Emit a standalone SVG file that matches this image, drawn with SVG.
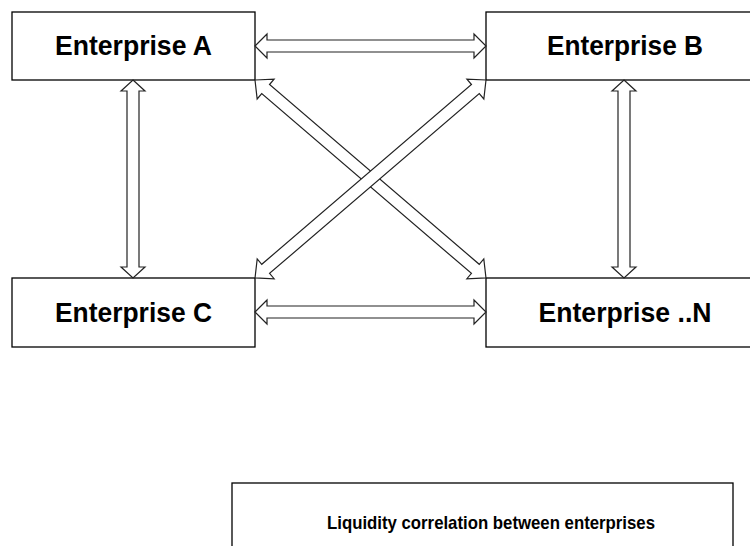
<svg xmlns="http://www.w3.org/2000/svg" width="750" height="546" viewBox="0 0 750 546">
<style>
.box{fill:#fff;stroke:#000;stroke-width:1.3}
.lbl{font-family:"Liberation Sans",Arial,sans-serif;font-weight:bold;font-size:27px;fill:#000;text-anchor:middle}
.cap{font-family:"Liberation Sans",Arial,sans-serif;font-weight:bold;font-size:19px;fill:#000;text-anchor:middle}
.arr{fill:#fff;stroke:#222;stroke-width:1.2;stroke-linejoin:miter}
</style>
<rect width="750" height="546" fill="#fff"/>
<g id="nodeA"><rect class="box" x="12" y="12" width="243" height="68"/><text class="lbl" x="133.5" y="55" textLength="157" lengthAdjust="spacingAndGlyphs">Enterprise A</text></g>
<g id="nodeB"><rect class="box" x="486" y="12" width="280" height="68"/><text class="lbl" x="625" y="55" textLength="156" lengthAdjust="spacingAndGlyphs">Enterprise B</text></g>
<g id="nodeC"><rect class="box" x="12" y="278" width="243" height="69"/><text class="lbl" x="133.5" y="322" textLength="157" lengthAdjust="spacingAndGlyphs">Enterprise C</text></g>
<g id="nodeN"><rect class="box" x="486" y="278" width="280" height="69"/><text class="lbl" x="625" y="322" textLength="173" lengthAdjust="spacingAndGlyphs">Enterprise ..N</text></g>
<g id="caption"><rect class="box" x="232" y="483" width="501" height="80"/><text class="cap" x="491" y="529" textLength="328" lengthAdjust="spacingAndGlyphs">Liquidity correlation between enterprises</text></g>
<g id="connectors">
<path class="arr" transform="translate(255,46)" d="M0,0 L12,-12 L12,-6 L219,-6 L219,-12 L231,0 L219,12 L219,6 L12,6 L12,12 Z"/>
<path class="arr" transform="translate(255,312)" d="M0,0 L12,-12 L12,-6 L219,-6 L219,-12 L231,0 L219,12 L219,6 L12,6 L12,12 Z"/>
<path class="arr" transform="translate(133,80) rotate(90)" d="M0,0 L11,-12 L11,-6 L187,-6 L187,-12 L198,0 L187,12 L187,6 L11,6 L11,12 Z"/>
<path class="arr" transform="translate(624,80) rotate(90)" d="M0,0 L11,-12 L11,-6 L187,-6 L187,-12 L198,0 L187,12 L187,6 L11,6 L11,12 Z"/>
<path class="arr" transform="translate(255,80) rotate(40.6)" d="M0,0 L14,-13 L14,-6 L290.2,-6 L290.2,-13 L304.2,0 L290.2,13 L290.2,6 L14,6 L14,13 Z"/>
<path class="arr" transform="translate(486,80) rotate(139.4)" d="M0,0 L14,-13 L14,-6 L290.2,-6 L290.2,-13 L304.2,0 L290.2,13 L290.2,6 L14,6 L14,13 Z"/>
</g>
</svg>
